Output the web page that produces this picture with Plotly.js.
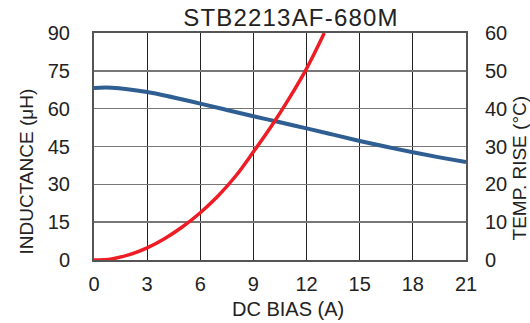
<!DOCTYPE html>
<html>
<head>
<meta charset="utf-8">
<script src="https://cdn.plot.ly/plotly-3.0.1.min.js"></script>
<style>
html,body{margin:0;padding:0;background:#fff;}
#chart{width:530px;height:323px;}
#chart .gtitle{letter-spacing:1.2px;}
</style>
</head>
<body>
<div id="chart"></div>
<script>
const chartTitle = "STB2213AF-680M";
const xTitle = "DC BIAS (A)";
const yLeftTitle = "INDUCTANCE (μH)";
const yRightTitle = "TEMP. RISE (°C)";

const inductanceBias = [0, 1, 3, 4.5, 6, 7.5, 9, 10.5, 12, 13.5, 15, 16.5, 18, 19.5, 21];
const inductanceValues = [68.2, 68.3, 66.6, 64.4, 62.0, 59.5, 57.0, 54.6, 52.2, 49.7, 47.2, 44.9, 42.7, 40.7, 38.8];

const tempBias = [0, 1, 2, 3, 4, 5, 6, 7, 8, 9, 10, 11, 12, 13];
const tempValues = [0, 0.3, 1.4, 3.2, 5.7, 8.8, 12.5, 16.9, 22.2, 28.6, 35.3, 42.6, 50.6, 60];

const xTicks = [0, 3, 6, 9, 12, 15, 18, 21];
const yLeftTicks = [0, 15, 30, 45, 60, 75, 90];
const yRightTicks = [0, 10, 20, 30, 40, 50, 60];

const font = "Liberation Sans, Arial, sans-serif";
const textColor = "#222";

const data = [
  {x: inductanceBias, y: inductanceValues, type: "scatter", mode: "lines",
   line: {color: "#2f5f92", width: 4, shape: "spline", smoothing: 1}, yaxis: "y", hoverinfo: "skip"},
  {x: tempBias, y: tempValues, type: "scatter", mode: "lines",
   line: {color: "#ee1c25", width: 3.5, shape: "spline", smoothing: 1}, yaxis: "y2", hoverinfo: "skip"}
];

const layout = {
  width: 530, height: 323,
  margin: {l: 94, r: 64, t: 33, b: 63},
  paper_bgcolor: "#fff", plot_bgcolor: "#fff",
  showlegend: false,
  font: {family: font, color: textColor, size: 20},
  title: {text: chartTitle, font: {family: font, size: 24, color: textColor}, x: 0.549, xanchor: "center", y: 0.944, yanchor: "middle"},
  xaxis: {
    range: [0, 21], tickvals: xTicks, ticktext: xTicks.map(String),
    showgrid: true, gridcolor: "#222", gridwidth: 1,
    showline: true, linecolor: "#555", linewidth: 2, mirror: true,
    zeroline: false, ticks: "", ticklabelstandoff: 5,
    tickfont: {size: 20, family: font, color: textColor},
    automargin: false
  },
  yaxis: {
    range: [0, 90], tickvals: yLeftTicks, ticktext: yLeftTicks.map(String),
    showgrid: true, gridcolor: "#777", gridwidth: 1.5,
    showline: true, linecolor: "#555", linewidth: 2, mirror: true,
    zeroline: false, ticks: "", ticklabelstandoff: 18,
    tickfont: {size: 20, family: font, color: textColor},
    automargin: false
  },
  yaxis2: {
    range: [0, 60], tickvals: yRightTicks, ticktext: yRightTicks.map(String),
    overlaying: "y", side: "right", showgrid: false,
    showline: true, linecolor: "#555", linewidth: 2,
    zeroline: false, ticks: "", ticklabelstandoff: 13,
    tickfont: {size: 20, family: font, color: textColor},
    automargin: false
  },
  annotations: [
    {text: xTitle, xref: "paper", yref: "paper", x: 0.5215, y: -0.216, xanchor: "center", yanchor: "middle",
     showarrow: false, font: {size: 20, family: font, color: textColor}},
    {text: yLeftTitle, xref: "paper", yref: "paper", x: -0.1815, y: 0.392, xanchor: "center", yanchor: "middle",
     textangle: -90, showarrow: false, font: {size: 19, family: font, color: textColor}},
    {text: yRightTitle, xref: "paper", yref: "paper", x: 1.145, y: 0.4075, xanchor: "center", yanchor: "middle",
     textangle: -90, showarrow: false, font: {size: 19, family: font, color: textColor}}
  ]
};

Plotly.newPlot("chart", data, layout, {staticPlot: true, displayModeBar: false});
</script>
</body>
</html>
